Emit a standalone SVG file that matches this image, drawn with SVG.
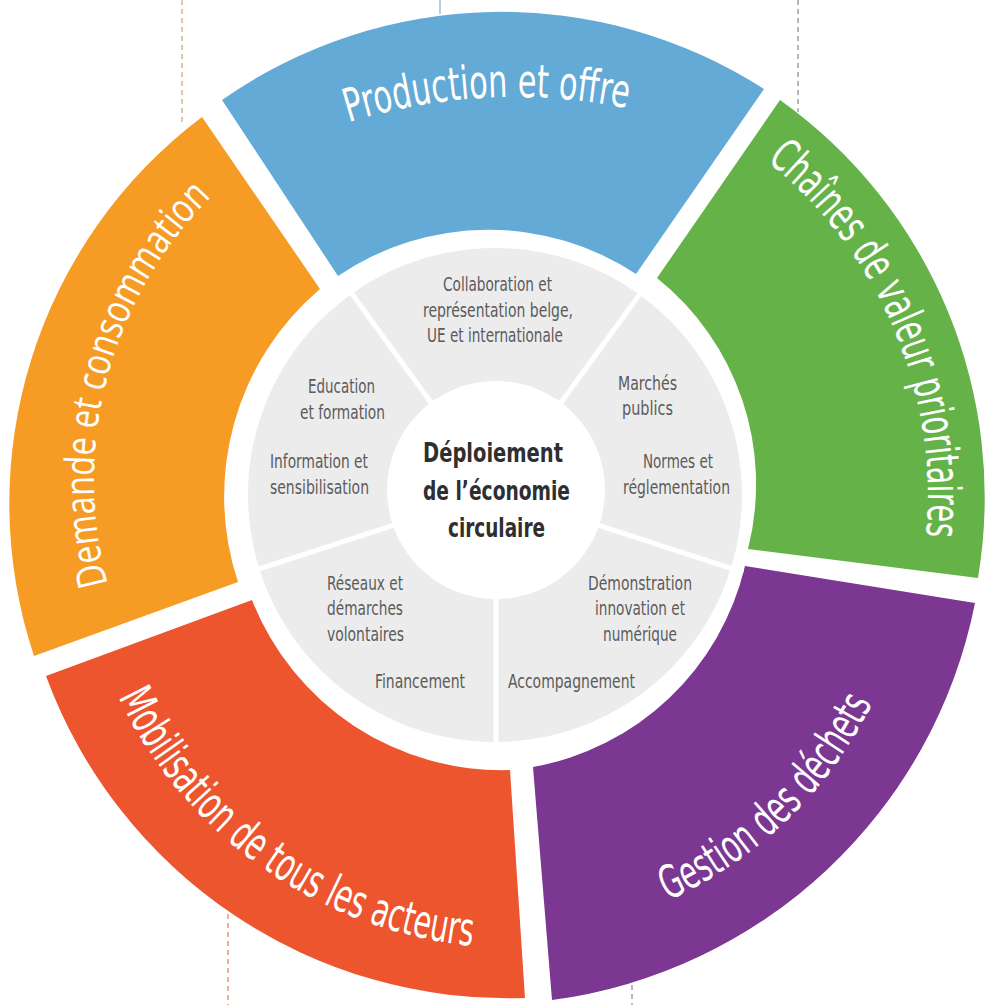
<svg xmlns="http://www.w3.org/2000/svg" width="994" height="1005" viewBox="0 0 994 1005">
<defs>
<style>
.seg { stroke: none; }
.big { font-family: "Liberation Sans Narrow", "DejaVu Sans Condensed", "Liberation Sans", sans-serif; fill: #ffffff; font-size: 46px; }
.big2 { font-family: "Open Sans", "Noto Sans", "Liberation Sans", sans-serif; fill: #ffffff; font-size: 41px; }
.lbl { font-family: "Liberation Sans Narrow", "DejaVu Sans Condensed", "Liberation Sans", sans-serif; fill: #5b5b5b; font-size: 19px; text-anchor: middle; }
.title { font-family: "Liberation Sans Narrow", "DejaVu Sans Condensed", "Liberation Sans", sans-serif; fill: #2f2f2f; font-size: 27px; font-weight: bold; text-anchor: middle; }
.dash { fill: none; stroke-width: 1.2; stroke-dasharray: 5 4; }
.sep { stroke: #ffffff; stroke-width: 5; }
</style>
<path id="p-blue" d="M 300 139.9 A 560 560 0 0 1 730 139.9"/>
<path id="p-green" d="M 571.8 72.6 A 431 431 0 0 1 854.3 738"/>
<path id="p-orange" d="M 187.6 737.1 A 400 400 0 0 1 357.2 104.1"/>
<path id="p-red" d="M 117.7 695.3 A 440 440 0 0 0 474 946"/>
<path id="p-purple" d="M 453.3 934.7 A 418 418 0 0 0 914 489.8"/>
</defs>
<rect x="0" y="0" width="994" height="1005" fill="#ffffff"/>

<g id="connectors">
<line class="dash" x1="182" y1="0" x2="182" y2="124" stroke="#c9a27c"/>
<line x1="440" y1="0" x2="440" y2="14" stroke="#7ab3d9" stroke-width="1.2"/>
<line class="dash" x1="798" y1="0" x2="798" y2="112" stroke="#8a8a8a"/>
<line class="dash" x1="228" y1="905" x2="228" y2="1005" stroke="#e07a5c"/>
<line class="dash" x1="632" y1="985" x2="632" y2="1005" stroke="#9d74ad"/>
</g>

<g id="production">
<path class="seg" fill="#63aad6" d="M 222 100 A 486 486 0 0 1 764 89 L 636 274 A 268 268 0 0 0 338 276 Z"/>
<text class="big" font-size="47"><textPath href="#p-blue" startOffset="192.6" text-anchor="middle" textLength="282" lengthAdjust="spacingAndGlyphs">Production et offre</textPath></text>
</g>

<g id="chaines">
<path class="seg" fill="#64b248" d="M 780 100 A 488 488 0 0 1 978 578 L 748 549 A 264 264 0 0 0 657 278 Z"/>
<text class="big"><textPath href="#p-green" startOffset="50%" text-anchor="middle" textLength="425" lengthAdjust="spacingAndGlyphs">Chaînes de valeur prioritaires</textPath></text>
</g>

<g id="gestion">
<path class="seg" fill="#7b3791" d="M 745 566 L 975 603 A 498 498 0 0 1 552 1000 L 533 767 A 266 266 0 0 0 745 566 Z"/>
<text class="big"><textPath href="#p-purple" startOffset="50%" text-anchor="middle" textLength="290" lengthAdjust="spacingAndGlyphs">Gestion des déchets</textPath></text>
</g>

<g id="mobilisation">
<path class="seg" fill="#ec552d" d="M 510 770 L 525 998 A 492 492 0 0 1 46 676 L 252 600 A 268 268 0 0 0 510 770 Z"/>
<text class="big"><textPath href="#p-red" startOffset="50%" text-anchor="middle" textLength="452" lengthAdjust="spacingAndGlyphs">Mobilisation de tous les acteurs</textPath></text>
</g>

<g id="demande">
<path class="seg" fill="#f69b23" d="M 34 656 A 484 484 0 0 1 202 117 L 320 289 A 272 272 0 0 0 238 582 Z"/>
<text class="big2"><textPath href="#p-orange" startOffset="50%" text-anchor="middle" textLength="420" lengthAdjust="spacingAndGlyphs">Demande et consommation</textPath></text>
</g>

<g id="leviers">
<circle cx="495" cy="495" r="247" fill="#ececec"/>
<line class="sep" x1="496" y1="492" x2="648.8" y2="281.7"/>
<line class="sep" x1="496" y1="492" x2="343.2" y2="281.7"/>
<line class="sep" x1="496" y1="492" x2="248.7" y2="572.3"/>
<line class="sep" x1="496" y1="492" x2="496" y2="752"/>
<line class="sep" x1="496" y1="492" x2="743.3" y2="572.3"/>
</g>

<g id="collaboration">
<text class="lbl" x="497.5" y="291" textLength="109" lengthAdjust="spacingAndGlyphs">Collaboration et</text>
<text class="lbl" x="498" y="317" textLength="150" lengthAdjust="spacingAndGlyphs">représentation belge,</text>
<text class="lbl" x="495" y="342" textLength="136" lengthAdjust="spacingAndGlyphs">UE et internationale</text>
</g>

<g id="education">
<text class="lbl" x="341.5" y="393" textLength="67" lengthAdjust="spacingAndGlyphs">Education</text>
<text class="lbl" x="342.5" y="419" textLength="85" lengthAdjust="spacingAndGlyphs">et formation</text>
<text class="lbl" x="319" y="468" textLength="98" lengthAdjust="spacingAndGlyphs">Information et</text>
<text class="lbl" x="319.5" y="494" textLength="99" lengthAdjust="spacingAndGlyphs">sensibilisation</text>
</g>

<g id="marches">
<text class="lbl" x="647.5" y="390" textLength="59" lengthAdjust="spacingAndGlyphs">Marchés</text>
<text class="lbl" x="647.5" y="415" textLength="51" lengthAdjust="spacingAndGlyphs">publics</text>
<text class="lbl" x="678" y="468" textLength="70" lengthAdjust="spacingAndGlyphs">Normes et</text>
<text class="lbl" x="676.5" y="494" textLength="107" lengthAdjust="spacingAndGlyphs">réglementation</text>
</g>

<g id="demonstration">
<text class="lbl" x="640" y="590" textLength="104" lengthAdjust="spacingAndGlyphs">Démonstration</text>
<text class="lbl" x="640" y="615" textLength="90" lengthAdjust="spacingAndGlyphs">innovation et</text>
<text class="lbl" x="640" y="641" textLength="74" lengthAdjust="spacingAndGlyphs">numérique</text>
<text class="lbl" x="571.5" y="688" textLength="127" lengthAdjust="spacingAndGlyphs">Accompagnement</text>
</g>

<g id="reseaux">
<text class="lbl" x="365" y="590" textLength="76" lengthAdjust="spacingAndGlyphs">Réseaux et</text>
<text class="lbl" x="365" y="615" textLength="76" lengthAdjust="spacingAndGlyphs">démarches</text>
<text class="lbl" x="365.5" y="641" textLength="77" lengthAdjust="spacingAndGlyphs">volontaires</text>
<text class="lbl" x="420" y="688" textLength="90" lengthAdjust="spacingAndGlyphs">Financement</text>
</g>

<g id="centre">
<circle cx="496" cy="490" r="109" fill="#ffffff"/>
<text class="title" x="493" y="462" textLength="140" lengthAdjust="spacingAndGlyphs">Déploiement</text>
<text class="title" x="496.5" y="500" textLength="147" lengthAdjust="spacingAndGlyphs">de l’économie</text>
<text class="title" x="496.5" y="537" textLength="97" lengthAdjust="spacingAndGlyphs">circulaire</text>
</g>
</svg>
